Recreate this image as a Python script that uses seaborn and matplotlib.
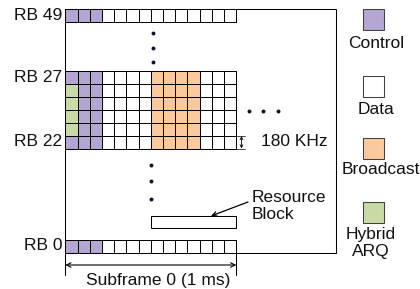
import numpy as np
import pandas as pd
import seaborn as sns
import matplotlib
matplotlib.use("Agg")
import matplotlib.pyplot as plt
from matplotlib.colors import ListedColormap
from matplotlib.patches import Rectangle

sns.set_theme(style="white")
plt.rcParams['font.family'] = ['Liberation Sans', 'DejaVu Sans']

# ---- data ----
rb_labels = ["RB 49", "RB 27", "RB 22", "RB 0"]
legend_labels = ["Control", "Data", "Broadcast", "Hybrid\nARQ"]
# cell codes: 0 = Data, 1 = Control, 2 = Broadcast, 3 = Hybrid ARQ
row_rb49 = [1, 1, 1, 0, 0, 0, 0, 0, 0, 0, 0, 0, 0, 0]
row_rb0 = [1, 1, 1, 0, 0, 0, 0, 0, 0, 0, 0, 0, 0, 0]
block_rb27_22 = [
    [1, 1, 1, 0, 0, 0, 0, 2, 2, 2, 2, 0, 0, 0],
    [3, 1, 1, 0, 0, 0, 0, 2, 2, 2, 2, 0, 0, 0],
    [3, 1, 1, 0, 0, 0, 0, 2, 2, 2, 2, 0, 0, 0],
    [3, 1, 1, 0, 0, 0, 0, 2, 2, 2, 2, 0, 0, 0],
    [3, 1, 1, 0, 0, 0, 0, 2, 2, 2, 2, 0, 0, 0],
    [1, 1, 1, 0, 0, 0, 0, 2, 2, 2, 2, 0, 0, 0],
]
colors = ["#FFFFFF", "#B4A5D2", "#FBC99E", "#C8DBA4"]  # data, control, broadcast, harq
legend_colors = ["#B4A5D2", "#FFFFFF", "#FBC99E", "#C8DBA4"]

W, H = 420, 289
fig = plt.figure(figsize=(W / 100, H / 100), dpi=100)
ax = fig.add_axes([0, 0, 1, 1])
ax.set_xlim(0, W)
ax.set_ylim(H, 0)
ax.axis("off")

cmap = ListedColormap(colors)
LW = 0.75
GLW = 0.5
FS = 12.5
TXT = "#111111"


def grid(rows, x, y, w, h):
    hax = fig.add_axes([x / W, 1 - (y + h) / H, w / W, h / H])
    df = pd.DataFrame(rows)
    sns.heatmap(df, ax=hax, cmap=cmap, vmin=-0.5, vmax=3.5, linewidths=GLW,
                linecolor="#000000", cbar=False, xticklabels=False, yticklabels=False)
    hax.collections[0].set_clip_on(False)
    hax.set_xlabel("")
    hax.set_ylabel("")
    for s in hax.spines.values():
        s.set_visible(False)
    return hax


x0, x1 = 65.3, 236.3
cell_h = 13.0
# outer frame
ax.add_patch(Rectangle((65.3, 9.3), 335.5 - 65.3, 252.5 - 9.3, fill=False,
                       edgecolor="black", lw=LW))
grid([row_rb49], x0, 9.3, x1 - x0, cell_h)
grid(block_rb27_22, x0, 70.7, x1 - x0, 6 * cell_h)
grid([row_rb0], x0, 239.5, x1 - x0, cell_h)

# RB labels
for lab, yc in zip(rb_labels, [16, 77, 142, 246]):
    ax.text(62, yc, lab, ha="right", va="center", fontsize=FS, color=TXT)

# vertical and horizontal dots
dot_kw = dict(s=8, color="#101030", zorder=5, linewidths=0)
ax.scatter([153, 153, 153], [33, 48, 62], **dot_kw)
ax.scatter([150.7, 150.7, 150.7], [165, 181, 199], **dot_kw)
ax.scatter([249, 263, 278], [111, 111, 111], **dot_kw)

# 180 KHz dimension
ax.plot([x1, 245], [135.7, 135.7], color="black", lw=GLW)
ax.plot([x1, 245], [148.7, 148.7], color="black", lw=GLW)
ax.annotate("", xy=(241.5, 136), xytext=(241.5, 148.5),
            arrowprops=dict(arrowstyle="<->", lw=0.6, color="black",
                            shrinkA=0, shrinkB=0, mutation_scale=5))
ax.text(261, 141, "180 KHz", ha="left", va="center", fontsize=FS, color=TXT)

# resource block
ax.add_patch(Rectangle((150.7, 215.7), 236 - 150.7, 12.6, fill=False,
                       edgecolor="black", lw=LW))
ax.text(251.5, 206, "Resource\nBlock", ha="left", va="center", fontsize=FS,
        color=TXT, linespacing=1.15)
ax.annotate("", xy=(211, 216), xytext=(248, 202),
            arrowprops=dict(arrowstyle="->", lw=0.9, color="black",
                            shrinkA=0, shrinkB=0, mutation_scale=8))

# subframe dimension
ax.plot([x0, x0], [252.5, 275], color="black", lw=LW)
ax.plot([x1, x1], [252.5, 275], color="black", lw=LW)
ax.annotate("", xy=(x0, 265), xytext=(x1, 265),
            arrowprops=dict(arrowstyle="<->", lw=0.8, color="black",
                            shrinkA=0, shrinkB=0, mutation_scale=8))
ax.text(158, 280, "Subframe 0 (1 ms)", ha="center", va="center", fontsize=FS,
        color=TXT)

# legend
sq_y = [9, 76, 138, 201.7]
txt_pos = [(376, 43), (375.7, 110), (381, 170), (370.5, 243)]
for lab, col, yy, (tx, ty) in zip(legend_labels, legend_colors, sq_y, txt_pos):
    ax.add_patch(Rectangle((362.7, yy), 20.8, 21, facecolor=col,
                           edgecolor="#404040", lw=LW))
    ax.text(tx, ty, lab, ha="center", va="center", fontsize=FS, color=TXT,
            linespacing=1.15, clip_on=False)

fig.savefig("out.png", dpi=100)
